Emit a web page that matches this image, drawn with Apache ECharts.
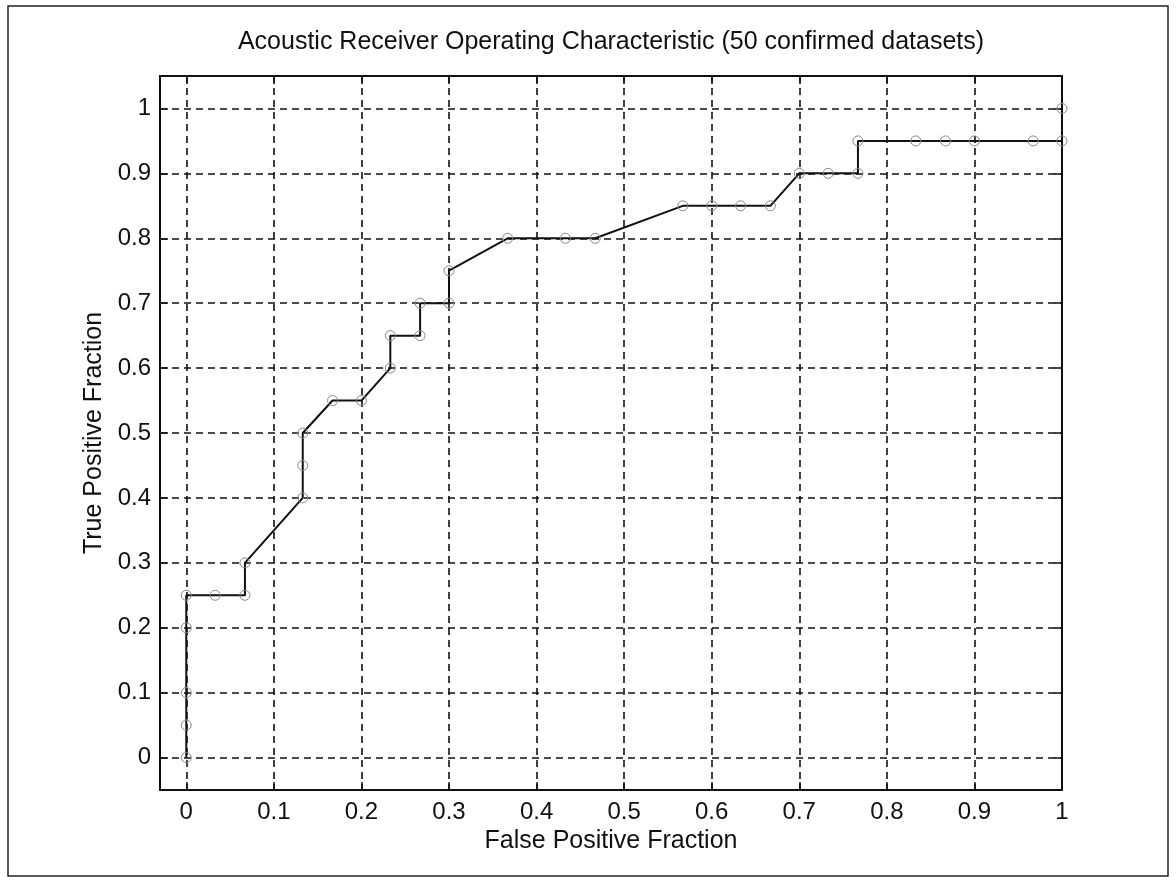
<!DOCTYPE html>
<html>
<head>
<meta charset="utf-8">
<script src="https://cdn.jsdelivr.net/npm/echarts@6/dist/echarts.min.js"></script>
<style>
html,body{margin:0;padding:0;background:#fff;}
#chart{width:1176px;height:890px;}
</style>
</head>
<body>
<div id="chart"></div>
<script>
var titleText = 'Acoustic Receiver Operating Characteristic (50 confirmed datasets)';
var xName = 'False Positive Fraction';
var yName = 'True Positive Fraction';
var falsePositive = [0, 0, 0, 0, 0, 0.033, 0.067, 0.067, 0.133, 0.133, 0.133, 0.167, 0.2, 0.233, 0.233, 0.267, 0.267, 0.3, 0.3, 0.367, 0.433, 0.467, 0.567, 0.6, 0.633, 0.667, 0.7, 0.733, 0.767, 0.767, 0.833, 0.867, 0.9, 0.967, 1, 1];
var truePositive  = [0, 0.05, 0.1, 0.2, 0.25, 0.25, 0.25, 0.3, 0.4, 0.45, 0.5, 0.55, 0.55, 0.6, 0.65, 0.65, 0.7, 0.7, 0.75, 0.8, 0.8, 0.8, 0.85, 0.85, 0.85, 0.85, 0.9, 0.9, 0.9, 0.95, 0.95, 0.95, 0.95, 0.95, 0.95, 1];
var xRange = [-0.03, 1];
var yRange = [-0.05, 1.05];

var pts = falsePositive.map(function (x, i) { return [x, truePositive[i]]; });
var font = 'Liberation Sans, Arial, sans-serif';
var gridDash = { show: true, lineStyle: { color: '#111', width: 1.6, type: [7, 5] } };
function fmt(v) { return String(Math.round(v * 10) / 10); }

var chart = echarts.init(document.getElementById('chart'), null, { renderer: 'canvas' });
chart.setOption({
  backgroundColor: '#fff',
  animation: false,
  title: {
    text: titleText, left: 606, top: 25, textAlign: 'center',
    textStyle: { fontFamily: font, fontSize: 25, fontWeight: 'normal', color: '#111' }
  },
  graphic: [{
    type: 'rect', shape: { x: 8, y: 6, width: 1160, height: 870 },
    style: { fill: 'none', stroke: '#222', lineWidth: 1.5 }, silent: true
  }],
  grid: { left: 160, top: 76, width: 902, height: 714, containLabel: false },
  xAxis: [{
    type: 'value', min: xRange[0], max: xRange[1], splitNumber: 10,
    name: xName, nameLocation: 'middle', nameGap: 36,
    nameTextStyle: { fontFamily: font, fontSize: 25, color: '#111' },
    axisLine: { show: true, onZero: false, lineStyle: { color: '#111', width: 2 } },
    axisTick: { show: true, inside: true, length: 8, lineStyle: { color: '#111', width: 1.5 } },
    axisLabel: { showMinLabel: false, margin: 10, fontFamily: font, fontSize: 24, color: '#111', formatter: fmt },
    splitLine: gridDash
  }, {
    type: 'value', position: 'top', min: xRange[0], max: xRange[1], splitNumber: 10,
    axisLine: { show: true, onZero: false, lineStyle: { color: '#111', width: 2 } },
    axisTick: { show: true, inside: true, length: 8, lineStyle: { color: '#111', width: 1.5 } },
    axisLabel: { show: false }, splitLine: { show: false }
  }],
  yAxis: [{
    type: 'value', min: yRange[0], max: yRange[1], splitNumber: 11,
    name: yName, nameLocation: 'middle', nameGap: 52, nameRotate: 90,
    nameTextStyle: { fontFamily: font, fontSize: 25, color: '#111' },
    axisLine: { show: true, onZero: false, lineStyle: { color: '#111', width: 2 } },
    axisTick: { show: true, inside: true, length: 8, lineStyle: { color: '#111', width: 1.5 } },
    axisLabel: { showMinLabel: false, showMaxLabel: false, margin: 9, fontFamily: font, fontSize: 24, color: '#111', formatter: fmt },
    splitLine: gridDash
  }, {
    type: 'value', position: 'right', min: yRange[0], max: yRange[1], splitNumber: 11,
    axisLine: { show: true, onZero: false, lineStyle: { color: '#111', width: 2 } },
    axisTick: { show: true, inside: true, length: 8, lineStyle: { color: '#111', width: 1.5 } },
    axisLabel: { show: false }, splitLine: { show: false }
  }],
  series: [{
    type: 'line', xAxisIndex: 0, yAxisIndex: 0, data: pts,
    symbol: 'circle', symbolSize: 10, showAllSymbol: true,
    lineStyle: { color: '#111', width: 2 },
    itemStyle: { color: 'rgba(0,0,0,0)', borderColor: '#888', borderWidth: 1 },
    clip: false, z: 5
  }]
});
</script>
</body>
</html>
